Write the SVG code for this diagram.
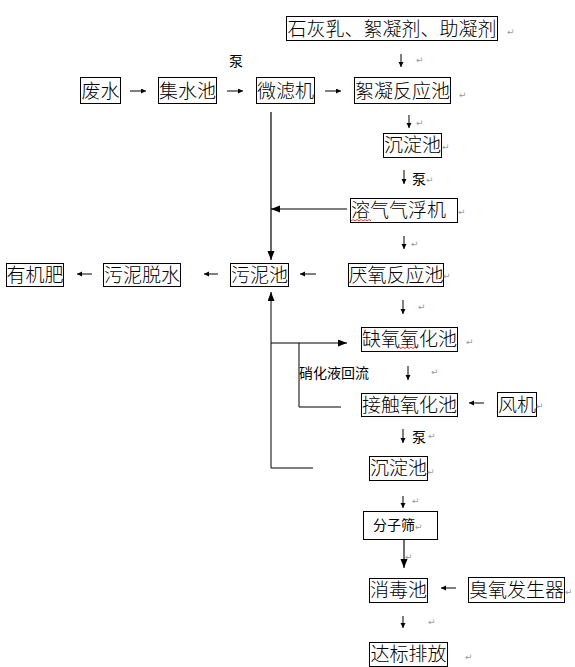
<svg xmlns="http://www.w3.org/2000/svg" width="575" height="667" viewBox="0 0 575 667">
<style>
.box{fill:#fff;stroke:#000;stroke-width:1}
.t{font-family:"Noto Sans CJK SC","Noto Sans CJK JP",sans-serif;font-size:19px;font-weight:300;fill:#000;text-anchor:middle}
.s{font-family:"Noto Sans CJK SC","Noto Sans CJK JP",sans-serif;font-size:14px;fill:#000}
.pm{font-family:"DejaVu Sans",sans-serif;font-size:9px;fill:#999}
.ln{fill:none;stroke:#000;stroke-width:1}
.sa{fill:none;stroke:#000;stroke-width:1;marker-end:url(#sm)}
.ba{fill:none;stroke:#000;stroke-width:1.2;marker-end:url(#bg)}
.sq{fill:none;stroke:#e00;stroke-width:0.8}
</style>
<defs>
<marker id="sm" markerUnits="userSpaceOnUse" markerWidth="6" markerHeight="6" refX="5" refY="2.5" orient="auto"><path d="M0,0 L5,2.5 L0,5 Z" fill="#000"/></marker>
<marker id="bg" markerUnits="userSpaceOnUse" markerWidth="10" markerHeight="8" refX="9" refY="3.5" orient="auto"><path d="M0,0 L9,3.5 L0,7 Z" fill="#000"/></marker>
</defs>
<rect width="575" height="667" fill="#fff"/>

<g id="connectors">
<line class="sa" x1="130" y1="91" x2="146" y2="91"/>
<line class="sa" x1="227" y1="91" x2="243" y2="91"/>
<line class="sa" x1="325" y1="91" x2="341" y2="91"/>
<line class="sa" x1="401" y1="54" x2="401" y2="67"/>
<line class="sa" x1="409" y1="115" x2="409" y2="128"/>
<line class="sa" x1="404" y1="170" x2="404" y2="184"/>
<line class="sa" x1="404" y1="236" x2="404" y2="249"/>
<line class="sa" x1="316" y1="274" x2="300" y2="274"/>
<line class="sa" x1="218" y1="274" x2="204" y2="274"/>
<line class="sa" x1="92" y1="274" x2="77" y2="274"/>
<line class="ba" x1="271" y1="112" x2="271" y2="260"/>
<line class="ba" x1="347" y1="209" x2="271" y2="209"/>
<line class="sa" x1="403" y1="300" x2="403" y2="314"/>
<polyline class="ln" points="313,468 271,468 271,300"/>
<line class="ba" x1="271" y1="300" x2="271" y2="292"/>
<line class="ba" x1="271" y1="343" x2="347" y2="343"/>
<polyline class="ln" points="299,343 299,407 341,407"/>
<line class="sa" x1="408" y1="366" x2="408" y2="380"/>
<line class="sa" x1="484" y1="403" x2="469" y2="403"/>
<line class="sa" x1="403" y1="429" x2="403" y2="443"/>
<line class="sa" x1="403" y1="496" x2="403" y2="508"/>
<line x1="404" y1="539" x2="404" y2="568" stroke="#333" stroke-width="1.4" marker-end="url(#bg)"/>
<line class="sa" x1="456" y1="588" x2="441" y2="588"/>
<line class="sa" x1="403" y1="616" x2="403" y2="628"/>
</g>

<g id="n-additives"><rect class="box" x="286.5" y="16.5" width="211" height="24"/><text class="t" x="392" y="35.5">石灰乳、絮凝剂、助凝剂</text></g>
<g id="n-wastewater"><rect class="box" x="80.5" y="77.5" width="40" height="26"/><text class="t" x="100.5" y="97.5">废水</text></g>
<g id="n-collect"><rect class="box" x="158.5" y="77.5" width="58" height="26"/><text class="t" x="187.5" y="97.5">集水池</text></g>
<g id="n-microfilter"><rect class="box" x="256.5" y="77.5" width="58" height="26"/><text class="t" x="285.5" y="97.5">微滤机</text></g>
<g id="n-flocculation"><rect class="box" x="354.5" y="77.5" width="96" height="26"/><text class="t" x="402.5" y="97.5">絮凝反应池</text></g>
<g id="n-settle1"><rect class="box" x="383.5" y="133.5" width="58" height="24"/><text class="t" x="412.5" y="152">沉淀池</text></g>
<g id="n-daf"><rect class="box" x="350.5" y="198.5" width="107" height="24"/><text class="t" x="398.5" y="217">溶气气浮机</text></g>
<g id="n-anaerobic"><rect class="box" x="348.5" y="263.5" width="95" height="23"/><text class="t" x="396" y="282">厌氧反应池</text></g>
<g id="n-sludgepool"><rect class="box" x="230.5" y="263.5" width="58" height="23"/><text class="t" x="259.5" y="282">污泥池</text></g>
<g id="n-dewater"><rect class="box" x="103.5" y="263.5" width="77" height="23"/><text class="t" x="142" y="282">污泥脱水</text></g>
<g id="n-fertilizer"><rect class="box" x="6.5" y="263.5" width="57" height="23"/><text class="t" x="35" y="282">有机肥</text></g>
<g id="n-anoxic"><rect class="box" x="361.5" y="327.5" width="96" height="24"/><text class="t" x="409.5" y="346">缺氧氧化池</text></g>
<g id="n-contact"><rect class="box" x="361.5" y="393.5" width="96" height="23"/><text class="t" x="409.5" y="412">接触氧化池</text></g>
<g id="n-blower"><rect class="box" x="497.5" y="392.5" width="39" height="24"/><text class="t" x="517" y="411.5">风机</text></g>
<g id="n-settle2"><rect class="box" x="369.5" y="456.5" width="58" height="24"/><text class="t" x="398.5" y="475">沉淀池</text></g>
<g id="n-sieve"><rect class="box" x="363.5" y="511.5" width="74" height="28"/><text class="s" x="373" y="530">分子筛</text></g>
<g id="n-disinfect"><rect class="box" x="369.5" y="578.5" width="58" height="24"/><text class="t" x="398.5" y="597">消毒池</text></g>
<g id="n-ozone"><rect class="box" x="468.5" y="577.5" width="96" height="25"/><text class="t" x="516.5" y="596.5">臭氧发生器</text></g>
<g id="n-discharge"><rect class="box" x="369.5" y="642.5" width="78" height="24"/><text class="t" x="408.5" y="661">达标排放</text></g>

<g id="labels">
<text class="s" x="229" y="66">泵</text>
<text class="s" x="412" y="184">泵</text>
<text class="s" x="412" y="442">泵</text>
<text class="s" x="299" y="378">硝化液回流</text>
</g>

<g id="squiggles">
<path class="sq" d="M351,221 l2,-1.5 l2,1.5 l2,-1.5 l2,1.5 l2,-1.5 l2,1.5 l2,-1.5 l2,1.5 l2,-1.5 l2,1.5"/>
<path class="sq" d="M397,348.5 l2,-1.5 l2,1.5 l2,-1.5 l2,1.5 l2,-1.5 l2,1.5 l2,-1.5 l2,1.5 l2,-1.5 l2,1.5"/>
</g>

<g id="marks">
<text class="pm" x="507" y="35">↵</text>
<text class="pm" x="416" y="63">↵</text>
<text class="pm" x="459" y="98">↵</text>
<text class="pm" x="416" y="126">↵</text>
<text class="pm" x="442" y="150">↵</text>
<text class="pm" x="426" y="183">↵</text>
<text class="pm" x="458" y="215">↵</text>
<text class="pm" x="411" y="247">↵</text>
<text class="pm" x="443" y="279">↵</text>
<text class="pm" x="418" y="310">↵</text>
<text class="pm" x="466" y="345">↵</text>
<text class="pm" x="431" y="375">↵</text>
<text class="pm" x="536" y="409">↵</text>
<text class="pm" x="428" y="439">↵</text>
<text class="pm" x="427" y="475">↵</text>
<text class="pm" x="412" y="504">↵</text>
<text class="pm" x="415" y="530">↵</text>
<text class="pm" x="405" y="560">↵</text>
<text class="pm" x="565" y="595">↵</text>
<text class="pm" x="428" y="625">↵</text>
<text class="pm" x="465" y="660">↵</text>
</g>
</svg>
